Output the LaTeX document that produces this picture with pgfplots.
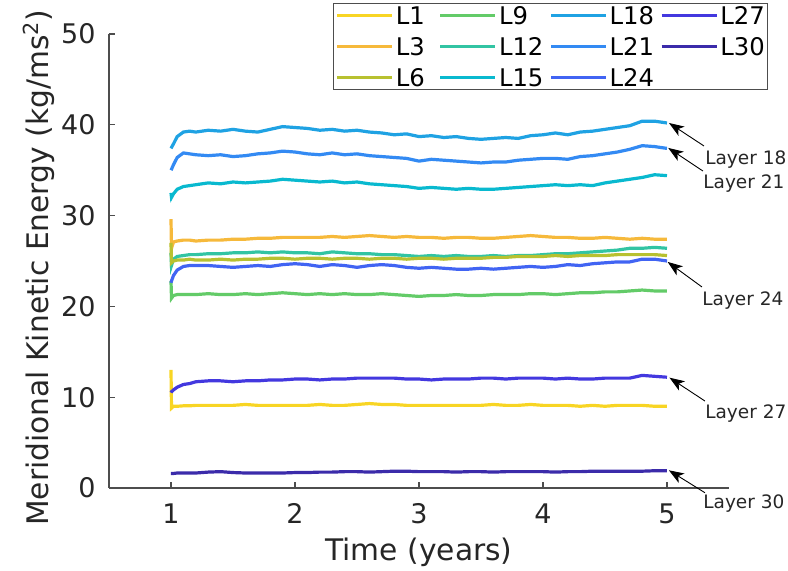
\documentclass[border=0pt]{standalone}
\usepackage{fontspec}
\setmainfont{DejaVu Sans}
\usepackage{pgfplots}
\pgfplotsset{compat=1.18}
\usepackage{pgfplotstable}
\usetikzlibrary{arrows.meta}

\definecolor{cL1}{HTML}{F8D524}
\definecolor{cL3}{HTML}{F6B93B}
\definecolor{cL6}{HTML}{B8C130}
\definecolor{cL9}{HTML}{63CB68}
\definecolor{cL12}{HTML}{32C4A3}
\definecolor{cL15}{HTML}{09B9CF}
\definecolor{cL18}{HTML}{1FA2E3}
\definecolor{cL21}{HTML}{338AF3}
\definecolor{cL24}{HTML}{4164F3}
\definecolor{cL27}{HTML}{4338DF}
\definecolor{cL30}{HTML}{3B2BAA}
\definecolor{axgrey}{HTML}{4D4D4D}
\definecolor{txtgrey}{HTML}{262626}

% Meridional kinetic energy per layer (kg/ms^2) against time in years
\pgfplotstableread{
t     L1    L3    L6    L9    L12   L15   L18   L21   L24   L27   L30
1.000 13.0  29.6  27.0  22.8  25.9  32.5  37.4  35.0  22.6  10.5  1.60
1.004 8.8   26.4  24.8  20.9  24.5  32.0  37.5  35.1  22.8  10.6  1.60
1.02  9.0   27.1  25.0  21.2  25.2  32.4  37.9  35.6  23.4  10.8  1.60
1.05  9.0   27.2  25.1  21.3  25.5  32.9  38.7  36.4  24.0  11.1  1.65
1.10  9.05  27.3  25.1  21.3  25.6  33.2  39.2  36.9  24.4  11.4  1.65
1.15  9.05  27.3  25.2  21.3  25.7  33.3  39.3  36.8  24.5  11.5  1.65
1.2   9.1   27.2  25.1  21.3  25.7  33.4  39.2  36.7  24.5  11.7  1.65
1.3   9.1   27.3  25.1  21.4  25.8  33.6  39.4  36.6  24.5  11.8  1.75
1.4   9.1   27.3  25.2  21.3  25.8  33.5  39.3  36.7  24.4  11.8  1.80
1.5   9.1   27.4  25.1  21.3  25.9  33.7  39.5  36.5  24.3  11.7  1.70
1.6   9.2   27.4  25.2  21.4  25.9  33.6  39.3  36.6  24.4  11.8  1.65
1.7   9.1   27.5  25.2  21.3  26.0  33.7  39.2  36.8  24.5  11.8  1.65
1.8   9.1   27.5  25.3  21.4  25.9  33.8  39.5  36.9  24.4  11.9  1.65
1.9   9.1   27.6  25.3  21.5  26.0  34.0  39.8  37.1  24.6  11.9  1.65
2.0   9.1   27.6  25.2  21.4  25.9  33.9  39.7  37.0  24.7  12.0  1.70
2.1   9.1   27.6  25.3  21.3  25.9  33.8  39.6  36.8  24.6  12.0  1.70
2.2   9.2   27.6  25.3  21.4  25.8  33.7  39.4  36.7  24.4  11.9  1.75
2.3   9.1   27.7  25.2  21.3  26.0  33.8  39.5  36.9  24.6  12.0  1.75
2.4   9.1   27.6  25.3  21.4  25.9  33.6  39.3  36.7  24.5  12.0  1.80
2.5   9.2   27.7  25.3  21.3  25.8  33.7  39.4  36.8  24.3  12.1  1.80
2.6   9.3   27.8  25.2  21.3  25.8  33.5  39.2  36.6  24.5  12.1  1.75
2.7   9.2   27.7  25.3  21.4  25.7  33.4  39.1  36.5  24.6  12.1  1.80
2.8   9.2   27.6  25.3  21.3  25.7  33.3  38.9  36.4  24.5  12.1  1.85
2.9   9.1   27.7  25.2  21.2  25.6  33.2  39.0  36.3  24.3  12.0  1.85
3.0   9.1   27.6  25.3  21.1  25.5  33.0  38.7  36.0  24.2  12.0  1.80
3.1   9.1   27.6  25.3  21.2  25.6  33.1  38.8  36.2  24.3  11.9  1.80
3.2   9.1   27.5  25.2  21.2  25.5  33.0  38.6  36.1  24.2  12.0  1.80
3.3   9.1   27.6  25.3  21.3  25.6  32.9  38.7  36.0  24.1  12.0  1.75
3.4   9.1   27.6  25.3  21.2  25.5  33.0  38.5  35.9  24.1  12.0  1.80
3.5   9.1   27.5  25.3  21.2  25.5  32.9  38.4  35.8  24.2  12.1  1.80
3.6   9.2   27.5  25.4  21.3  25.6  32.9  38.5  35.9  24.1  12.1  1.75
3.7   9.1   27.6  25.4  21.3  25.5  33.0  38.6  35.9  24.2  12.0  1.80
3.8   9.1   27.7  25.5  21.3  25.6  33.1  38.5  36.1  24.3  12.1  1.80
3.9   9.2   27.8  25.5  21.4  25.6  33.2  38.8  36.2  24.4  12.1  1.80
4.0   9.1   27.7  25.5  21.4  25.7  33.3  38.9  36.3  24.3  12.1  1.80
4.1   9.1   27.6  25.6  21.3  25.8  33.4  39.1  36.3  24.4  12.0  1.75
4.2   9.1   27.6  25.5  21.4  25.8  33.3  38.9  36.2  24.6  12.1  1.80
4.3   9.0   27.5  25.6  21.5  25.9  33.4  39.2  36.5  24.5  12.0  1.80
4.4   9.1   27.5  25.6  21.5  26.0  33.3  39.3  36.6  24.7  12.0  1.85
4.5   9.0   27.6  25.6  21.6  26.1  33.6  39.5  36.8  24.8  12.1  1.85
4.6   9.1   27.5  25.7  21.6  26.2  33.8  39.7  37.0  24.9  12.1  1.85
4.7   9.1   27.4  25.7  21.7  26.4  34.0  39.9  37.3  24.9  12.1  1.85
4.8   9.1   27.5  25.7  21.8  26.4  34.2  40.4  37.7  25.2  12.4  1.85
4.9   9.0   27.4  25.7  21.7  26.5  34.5  40.4  37.6  25.2  12.3  1.90
5.0   9.0   27.4  25.6  21.7  26.4  34.4  40.2  37.4  25.0  12.2  1.90
}\kedata

\begin{document}
\begin{tikzpicture}
\path[use as bounding box] (-54.5pt,-41.5pt) rectangle (339.5pt,244pt);
\begin{axis}[
  at={(0,0)}, anchor=south west,
  scale only axis, width=310pt, height=227pt,
  xmin=0.5, xmax=5.5, ymin=0, ymax=50,
  xtick={1,2,3,4,5}, ytick={0,10,20,30,40,50},
  axis x line*=bottom, axis y line*=left,
  axis line style={-, draw=axgrey, line width=0.6pt},
  tick style={draw=axgrey, line width=0.6pt},
  tick align=inside, major tick length=3pt,
  /pgf/number format/assume math mode=true,
  tick label style={font=\fontsize{13.5}{16}\selectfont, text=txtgrey},
  xticklabel style={anchor=base, inner sep=0pt, yshift=-18pt},
  yticklabel style={anchor=east, inner sep=0pt, xshift=-6.5pt},
  label style={font=\fontsize{14.85}{17}\selectfont, text=txtgrey},
  xlabel={Time (years)},
  ylabel={Meridional Kinetic Energy (kg/ms\textsuperscript{2})},
  xlabel style={at={(axis description cs:0.5,-0.16)}, anchor=base, inner sep=0pt},
  ylabel style={at={(axis description cs:-0.097,0.485)}, anchor=base, inner sep=0pt},
  clip=false,
  legend columns=4,
  legend cell align=left,
  legend image code/.code={\draw[#1] (0pt,0pt) -- (27.5pt,0pt);},
  legend style={at={(0.3613,1.0683)}, anchor=north west,
    draw=axgrey, line width=0.6pt, fill=white,
    font=\fontsize{12.15}{14}\selectfont, text=black,
    inner sep=1pt, row sep=5.5pt,
    nodes={inner sep=0.5pt, text height=9pt, text depth=0pt},
    /tikz/every odd column/.style={column sep=0.5pt},
    /tikz/every even column/.style={column sep=2.5pt}},
  every axis plot/.append style={line width=1.6pt},
]
% entries in row order so the legend reads down each column
\addplot[cL1] table[x=t, y=L1] {\kedata}; \addlegendentry{L1\hspace*{4pt}}
\addplot[cL9] table[x=t, y=L9] {\kedata}; \addlegendentry{L9}
\addplot[cL18] table[x=t, y=L18] {\kedata}; \addlegendentry{L18}
\addplot[cL27] table[x=t, y=L27] {\kedata}; \addlegendentry{L27}
\addplot[cL3] table[x=t, y=L3] {\kedata}; \addlegendentry{L3\hspace*{4pt}}
\addplot[cL12] table[x=t, y=L12] {\kedata}; \addlegendentry{L12}
\addplot[cL21] table[x=t, y=L21] {\kedata}; \addlegendentry{L21}
\addplot[cL30] table[x=t, y=L30] {\kedata}; \addlegendentry{L30}
\addplot[cL6] table[x=t, y=L6] {\kedata}; \addlegendentry{L6\hspace*{4pt}}
\addplot[cL15] table[x=t, y=L15] {\kedata}; \addlegendentry{L15}
\addplot[cL24] table[x=t, y=L24] {\kedata}; \addlegendentry{L24}

% layer call-outs at the end of the record
\tikzset{callout/.style={-{Stealth[length=7.5pt,width=5.5pt,inset=2pt]}, line width=0.45pt, black},
         calltext/.style={anchor=base west, inner sep=0pt, font=\fontsize{9.25}{11}\selectfont, text=txtgrey}}
\draw[callout] (axis cs:5.298,37.67) -- (axis cs:5.016,40.2);
\draw[callout] (axis cs:5.290,34.91) -- (axis cs:5.010,37.45);
\draw[callout] (axis cs:5.282,22.14) -- (axis cs:5.005,24.9);
\draw[callout] (axis cs:5.306,9.58) -- (axis cs:5.020,12.15);
\draw[callout] (axis cs:5.306,-0.52) -- (axis cs:5.015,1.95);
\node[calltext] at (axis cs:5.306,35.68) {Layer 18};
\node[calltext] at (axis cs:5.290,33.0) {Layer 21};
\node[calltext] at (axis cs:5.282,20.15) {Layer 24};
\node[calltext] at (axis cs:5.306,7.6) {Layer 27};
\node[calltext] at (axis cs:5.290,-2.31) {Layer 30};
\end{axis}
\end{tikzpicture}
\end{document}
